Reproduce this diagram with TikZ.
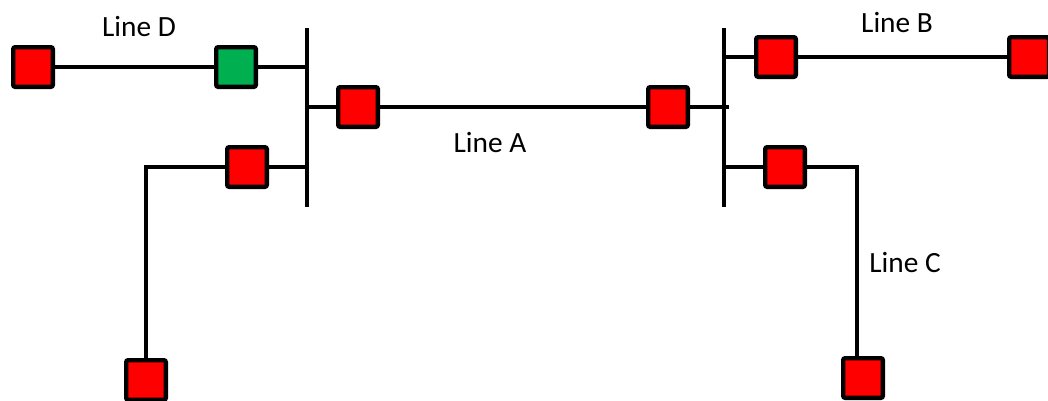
\documentclass[tikz,border=0pt]{standalone}
\usepackage{fontspec}
\setmainfont{Carlito}
\definecolor{brkred}{HTML}{FF0000}
\definecolor{brkgreen}{HTML}{00B050}
\begin{document}
\begin{tikzpicture}[x=0.75pt,y=-0.75pt,
  brk/.style={draw=black,line width=3.2pt,minimum size=29.8pt,inner sep=0pt,rounded corners=1.5pt,fill=brkred},
  brkg/.style={brk,fill=brkgreen},
  wire/.style={line width=3pt},
  bus/.style={line width=3pt},
  lbl/.style={font=\fontsize{22}{26}\selectfont,inner sep=0pt}]
\useasboundingbox (0,0) rectangle (1048,400);
\clip (0,0) rectangle (1048,400);
% buses
\coordinate (bLt) at (307,28); \coordinate (bLb) at (307,207);
\coordinate (bRt) at (724,28); \coordinate (bRb) at (724,207);
\draw[bus] (bLt) -- (bLb);
\draw[bus] (bRt) -- (bRb);
% breakers
\node[brk]  (sD1) at (33,67) {};
\node[brkg] (sD2) at (236,67) {};
\node[brk]  (sA1) at (358,107) {};
\node[brk]  (sA2) at (668,107) {};
\node[brk]  (sL)  at (247,167) {};
\node[brk]  (sLb) at (146,380) {};
\node[brk]  (sB1) at (776,57) {};
\node[brk]  (sB2) at (1029,57) {};
\node[brk]  (sC)  at (785,167) {};
\node[brk]  (sCb) at (863,378) {};
\coordinate (cL) at (146,167);
\coordinate (cC) at (857,167);
\coordinate (aEnd) at (729,107);
% wires
\draw[wire] (sD1.east) -- (sD2.west);
\draw[wire] (sD2.east) -- (sD2 -| bLt);
\draw[wire] (sA1 -| bLt) -- (sA1.west);
\draw[wire] (sA1.east) -- (sA2.west);
\draw[wire] (sA2.east) -- (aEnd);
\draw[wire] (sL.east) -- (sL -| bLt);
\draw[wire] (sL.west) -- (cL) -- (sLb.north);
\draw[wire] (sB1 -| bRt) -- (sB1.west);
\draw[wire] (sB1.east) -- (sB2.west);
\draw[wire] (sC -| bRt) -- (sC.west);
\draw[wire] (sC.east) -- (cC) -- (cC |- sCb.north);
% labels
\node[lbl] (lD) at (139,27) {Line D};
\node[lbl] (lA) at (490,143) {Line A};
\node[lbl] (lB) at (897,23) {Line B};
\node[lbl] (lC) at (905,263) {Line C};
\end{tikzpicture}
\end{document}
